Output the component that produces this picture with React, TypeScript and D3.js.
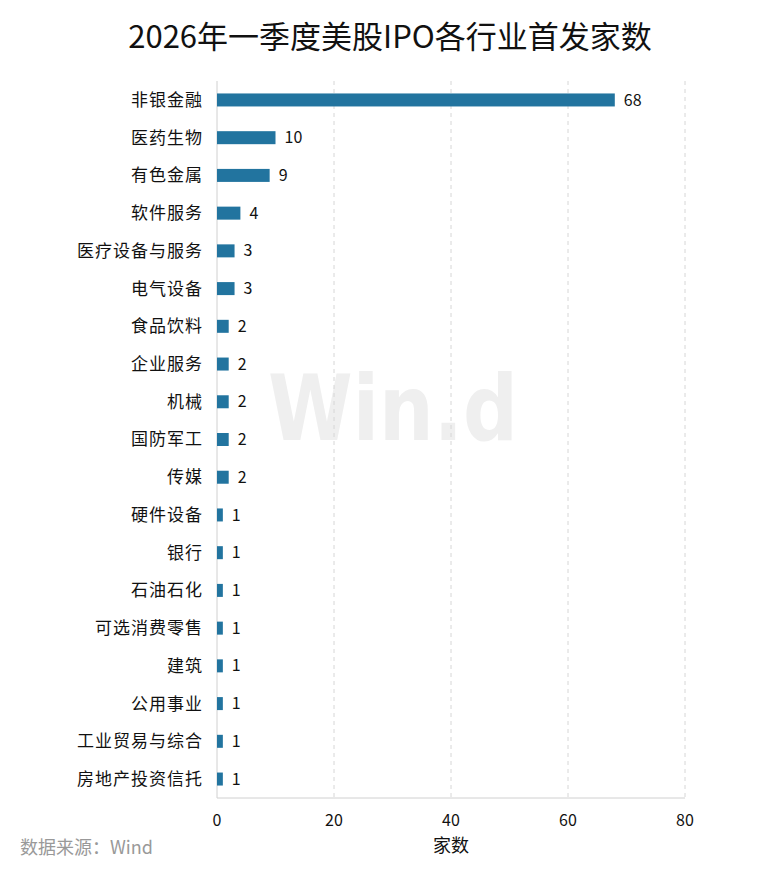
import React from "react";
import * as d3 from "d3";

const categories = ["非银金融","医药生物","有色金属","软件服务","医疗设备与服务","电气设备","食品饮料","企业服务","机械","国防军工","传媒","硬件设备","银行","石油石化","可选消费零售","建筑","公用事业","工业贸易与综合","房地产投资信托"];
const values = [68,10,9,4,3,3,2,2,2,2,2,1,1,1,1,1,1,1,1];
const xTicks = [0,20,40,60,80];
const title = "2026年一季度美股IPO各行业首发家数";
const xLabel = "家数";
const source = "数据来源：Wind";

const W = 771, H = 872;
const m = { left: 217, right: 86, top: 81, bottom: 74 };
const FONT = "'Noto Sans CJK SC', 'Noto Sans', sans-serif";

export default function App() {
  const x = d3.scaleLinear().domain([0, 80]).range([m.left, W - m.right]);
  const y = d3.scaleBand().domain(categories).range([m.top, H - m.bottom]).paddingInner(0.655).paddingOuter(0.33);
  const bh = 13;
  const yc = (c: string) => (y(c) as number) + y.bandwidth() / 2;
  const y0 = m.top, y1 = H - m.bottom;
  return (
    <svg width={W} height={H} style={{ position: "absolute", left: 0, top: 0, background: "#fff" }} fontFamily={FONT}>
      <rect width={W} height={H} fill="#fff" />
      <text x={390} y={48} textAnchor="middle" fontSize={31} fill="#111">{title}</text>
      <text x={268} y={440} fontSize={90} fontWeight="bold" fill="#efefef" fontFamily="'DejaVu Sans', sans-serif" textLength={250} lengthAdjust="spacingAndGlyphs">Win.d</text>
      {xTicks.filter(t => t > 0).map(t => (
        <line key={t} x1={x(t)} x2={x(t)} y1={y0} y2={y1} stroke="#d6d6d6" strokeDasharray="4,4" />
      ))}
      <line x1={x(0)} x2={x(0)} y1={y0} y2={y1} stroke="#d0d0d0" />
      <line x1={x(0)} x2={x(80)} y1={y1} y2={y1} stroke="#d0d0d0" />
      {categories.map((c, i) => (
        <g key={c}>
          <rect x={x(0)} y={yc(c) - bh / 2} width={x(values[i]) - x(0)} height={bh} fill="#22749f" />
          <text x={203} y={yc(c)} dy="0.35em" textAnchor="end" fontSize={17} letterSpacing={1} fill="#111">{c}</text>
          <text x={x(values[i]) + 9} y={yc(c)} dy="0.35em" fontSize={16} fill="#111">{values[i]}</text>
        </g>
      ))}
      {xTicks.map(t => (
        <text key={t} x={x(t)} y={826} textAnchor="middle" fontSize={16} fill="#111">{t}</text>
      ))}
      <text x={(x(0) + x(80)) / 2} y={852} textAnchor="middle" fontSize={18} fill="#111">{xLabel}</text>
      <text x={20} y={854} fontSize={18} fill="#999">{source}</text>
    </svg>
  );
}
